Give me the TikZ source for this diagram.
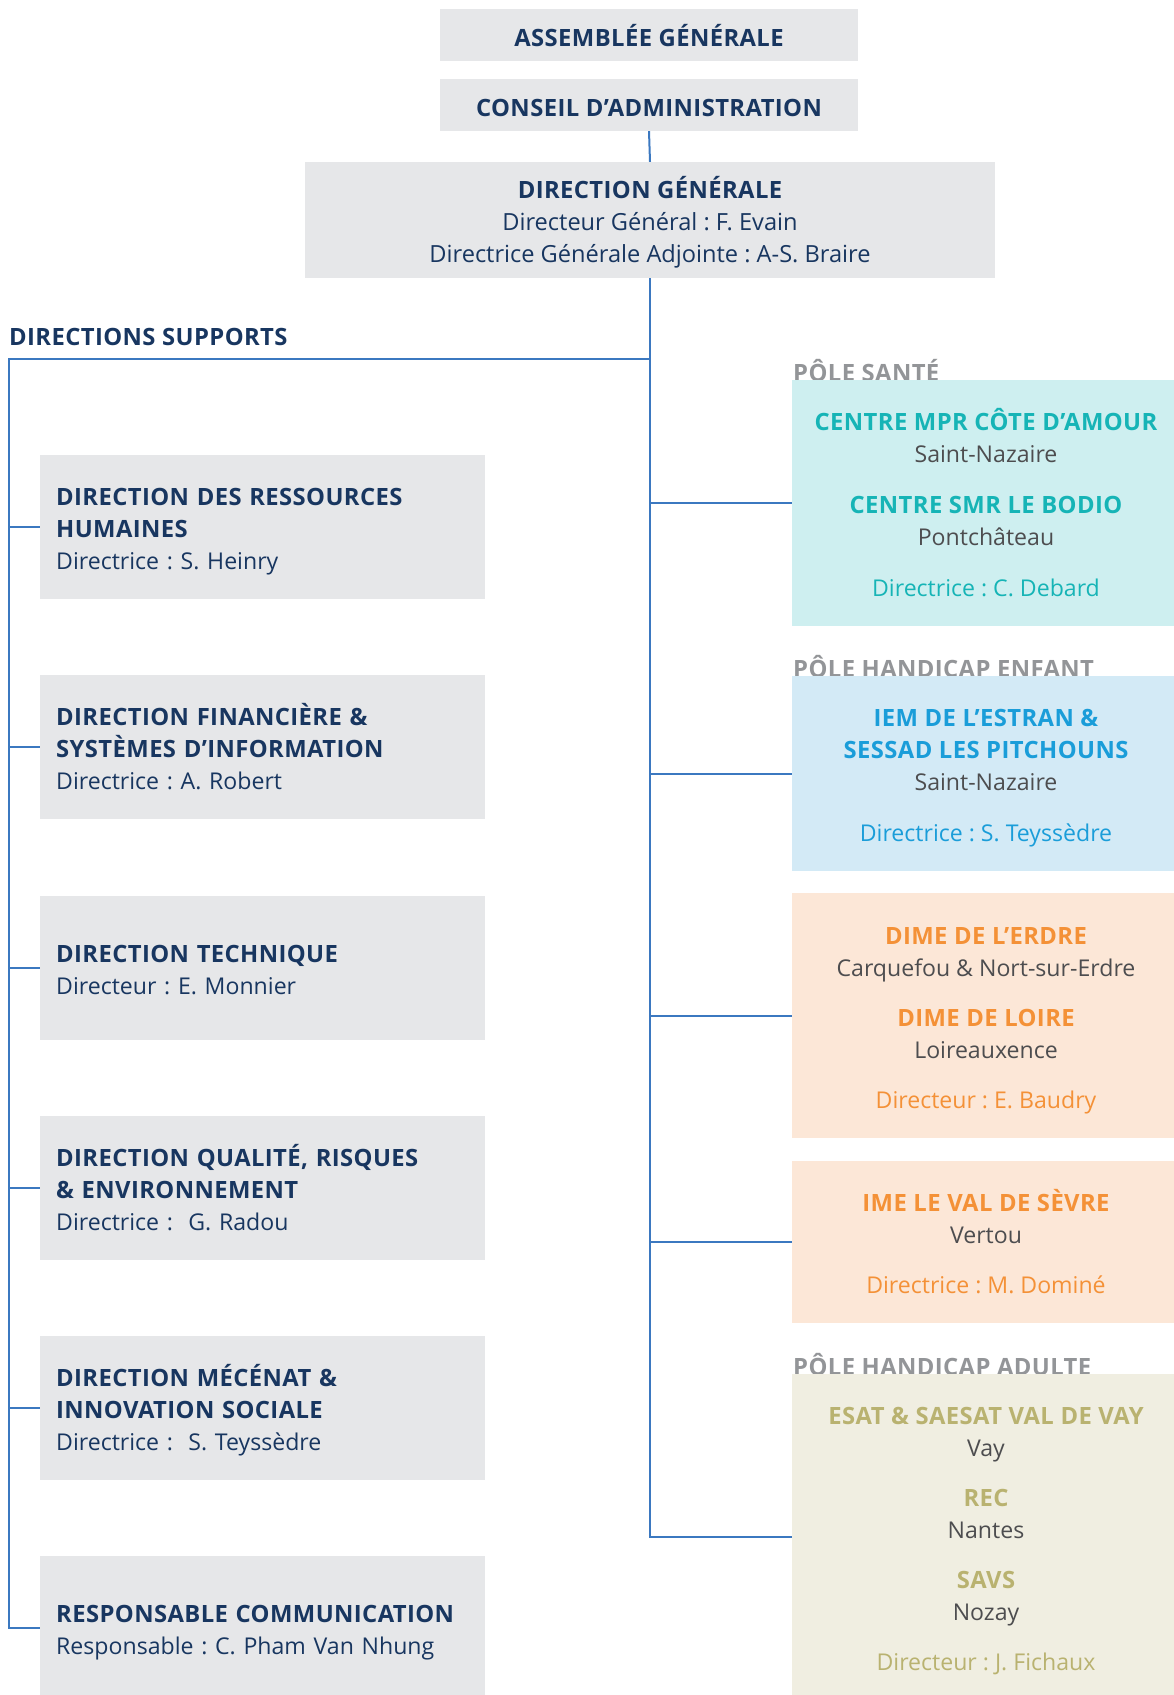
\documentclass[tikz,border=0pt]{standalone}
\usepackage{fontspec}
\setmainfont{Open Sans}[BoldFeatures={LetterSpace=1.7}]
\frenchspacing
\definecolor{navy}{RGB}{24,54,96}
\definecolor{boxgray}{RGB}{230,231,233}
\definecolor{conn}{RGB}{59,120,192}
\definecolor{santebg}{RGB}{206,239,240}
\definecolor{santefg}{RGB}{22,180,182}
\definecolor{enfbg}{RGB}{211,234,246}
\definecolor{enffg}{RGB}{26,157,217}
\definecolor{orbg}{RGB}{252,231,215}
\definecolor{orfg}{RGB}{244,145,55}
\definecolor{adbg}{RGB}{240,238,225}
\definecolor{adfg}{RGB}{185,178,112}
\definecolor{place}{RGB}{77,77,79}
\definecolor{polegray}{RGB}{147,149,152}
\newcommand\myfl{\raisebox{0.24em}{\vphantom{É}}}
\newcommand\mylast{\vphantom{y}}
\newcommand\hb[1]{{\fontsize{23.8}{32}\selectfont\bfseries #1}}
\begin{document}
\begin{tikzpicture}[x=1pt,y=-1pt,
  txt/.style={font=\fontsize{23.1}{32}\selectfont, inner sep=0pt},
  topbox/.style={txt, fill=boxgray, text=navy, minimum width=418pt, minimum height=52pt, font=\bfseries\fontsize{23.8}{32}\selectfont},
  dgbox/.style={txt, fill=boxgray, text=navy, minimum width=690pt, minimum height=116pt, align=center, font=\fontsize{23.6}{32}\selectfont},
  leftbox/.style={txt, fill=boxgray, text=navy, anchor=west, minimum width=445pt, minimum height=144pt, inner xsep=16pt, text width=413pt, align=left},
  rightbox/.style={txt, text=place, minimum width=388pt, align=center},
  polelabel/.style={txt, anchor=base west, text=polegray, font=\bfseries\fontsize{23.8}{32}\selectfont},
  link/.style={draw=conn, line width=2pt}
]
\useasboundingbox (0,0) rectangle (1174,1695);
\begin{scope}
\clip (0,0) rectangle (1174,1695);

% top
\node[topbox] (ag) at (649,35) {\myfl ASSEMBLÉE GÉNÉRALE\mylast};
\node[topbox] (ca) at (649,105) {\myfl CONSEIL D’ADMINISTRATION\mylast};
\node[dgbox] (dg) at (650,220) {\myfl\hb{DIRECTION GÉNÉRALE}\\Directeur Général : F. Evain\\Directrice Générale Adjointe : A-S. Braire\mylast};

\node[polelabel, text=navy] (sup) at (9,345) {DIRECTIONS SUPPORTS};

% left boxes
\node[leftbox] (b1) at (40,527) {\myfl\hb{DIRECTION DES RESSOURCES}\\\hb{HUMAINES}\\Directrice : S. Heinry\mylast};
\node[leftbox] (b2) at (40,747) {\myfl\hb{DIRECTION FINANCIÈRE \&}\\\hb{SYSTÈMES D’INFORMATION}\\Directrice : A. Robert\mylast};
\node[leftbox] (b3) at (40,968) {\myfl\hb{DIRECTION TECHNIQUE}\\Directeur : E. Monnier\mylast};
\node[leftbox] (b4) at (40,1188) {\myfl\hb{DIRECTION QUALITÉ, RISQUES}\\\hb{\& ENVIRONNEMENT}\\Directrice :\ \ G. Radou\mylast};
\node[leftbox] (b5) at (40,1408) {\myfl\hb{DIRECTION MÉCÉNAT \&}\\\hb{INNOVATION SOCIALE}\\Directrice :\ \ S. Teyssèdre\mylast};
\node[leftbox] (b6) at (40,1628) {\myfl\hb{RESPONSABLE COMMUNICATION}\\Responsable : C. Pham Van Nhung\mylast};

% pole labels (under boxes)
\node[polelabel] (ps) at (793,381) {PÔLE SANTÉ};
\node[polelabel] (pe) at (793,677) {PÔLE HANDICAP ENFANT};
\node[polelabel] (pa) at (793,1375) {PÔLE HANDICAP ADULTE};

% right boxes
\node[rightbox, fill=santebg, minimum height=246pt] (s) at (986,503)
 {\myfl\textcolor{santefg}{\hb{CENTRE MPR CÔTE D’AMOUR}}\\Saint-Nazaire\\[19pt]
  \textcolor{santefg}{\hb{CENTRE SMR LE BODIO}}\\Pontchâteau\\[19pt]
  \textcolor{santefg}{Directrice : C. Debard}\mylast};
\node[rightbox, fill=enfbg, minimum height=195pt] (e) at (986,773.5)
 {\myfl\textcolor{enffg}{\hb{IEM DE L’ESTRAN \&}}\\\textcolor{enffg}{\hb{SESSAD LES PITCHOUNS}}\\Saint-Nazaire\\[19pt]
  \textcolor{enffg}{Directrice : S. Teyssèdre}\mylast};
\node[rightbox, fill=orbg, minimum height=245pt] (o1) at (986,1015.5)
 {\myfl\textcolor{orfg}{\hb{DIME DE L’ERDRE}}\\Carquefou \& Nort-sur-Erdre\\[18pt]
  \textcolor{orfg}{\hb{DIME DE LOIRE}}\\Loireauxence\\[18pt]
  \textcolor{orfg}{Directeur : E. Baudry}\mylast};
\node[rightbox, fill=orbg, minimum height=162pt] (o2) at (986,1242)
 {\myfl\textcolor{orfg}{\hb{IME LE VAL DE SÈVRE}}\\Vertou\\[18pt]
  \textcolor{orfg}{Directrice : M. Dominé}\mylast};
\node[rightbox, fill=adbg, minimum height=326pt] (ad) at (986,1537)
 {\myfl\textcolor{adfg}{\hb{ESAT \& SAESAT VAL DE VAY}}\\Vay\\[18pt]
  \textcolor{adfg}{\hb{REC}}\\Nantes\\[18pt]
  \textcolor{adfg}{\hb{SAVS}}\\Nozay\\[18pt]
  \textcolor{adfg}{Directeur : J. Fichaux}\mylast};

% connectors
\coordinate (lt) at (9,359);
\draw[link] (ca.south) -- (dg.north);
\draw[link] (dg.south) -- (dg.south |- ad.west) -- (ad.west);
\draw[link] (dg.south |- s.west) -- (s.west);
\draw[link] (dg.south |- e.west) -- (e.west);
\draw[link] (dg.south |- o1.west) -- (o1.west);
\draw[link] (dg.south |- o2.west) -- (o2.west);
\draw[link] (dg.south |- lt) -- (lt) -- (lt |- b6.west) -- (b6.west);
\draw[link] (lt |- b1.west) -- (b1.west);
\draw[link] (lt |- b2.west) -- (b2.west);
\draw[link] (lt |- b3.west) -- (b3.west);
\draw[link] (lt |- b4.west) -- (b4.west);
\draw[link] (lt |- b5.west) -- (b5.west);
\end{scope}
\end{tikzpicture}
\end{document}
